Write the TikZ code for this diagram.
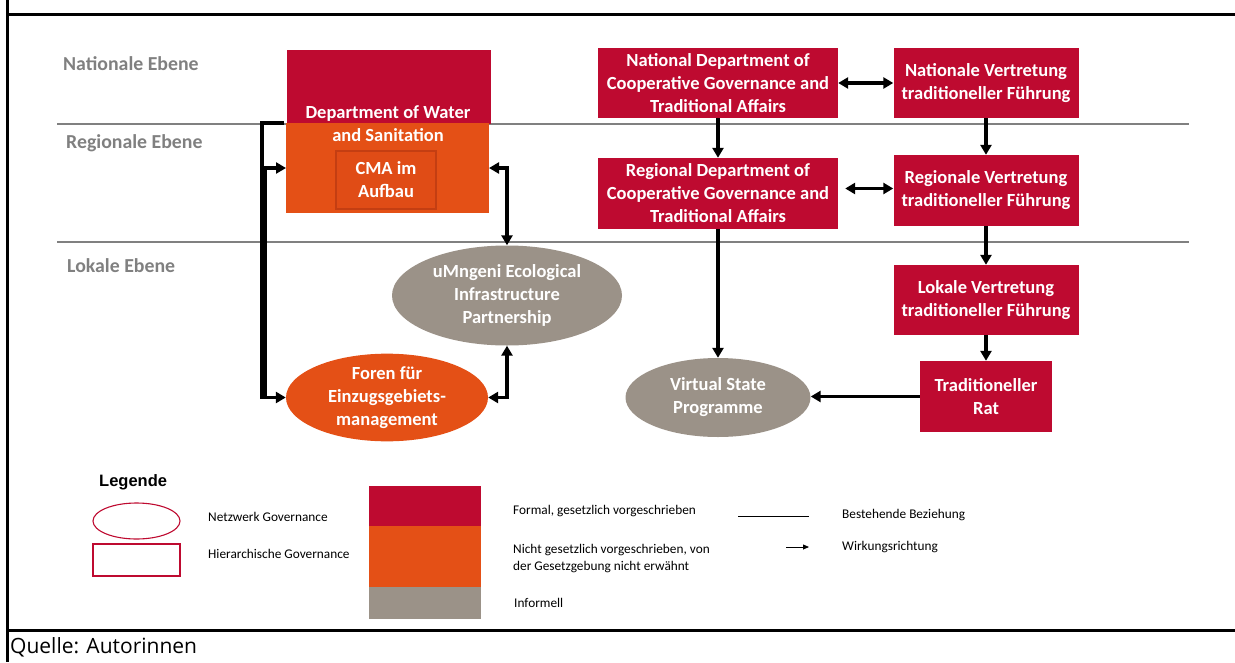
\documentclass[tikz,border=0pt]{standalone}
\usepackage{fontspec}
\setmainfont{Carlito}
\newfontfamily\legfont{Liberation Sans}
\newfontfamily\srcfont{Open Sans}
\usetikzlibrary{arrows.meta,shapes.geometric,calc}
\definecolor{crim}{RGB}{190,10,48}
\definecolor{orng}{RGB}{228,80,22}
\definecolor{cmaor}{RGB}{224,76,22}
\definecolor{cmaedge}{RGB}{196,62,18}
\definecolor{taupe}{RGB}{155,146,136}
\definecolor{lvlgray}{RGB}{128,128,128}
\begin{document}
\begin{tikzpicture}[x=1pt,y=-1pt,
  boxtext/.style={text=white, align=center, inner sep=0pt,
    font=\fontsize{18.5}{23}\selectfont\bfseries},
  redbox/.style={boxtext, rectangle, fill=crim},
  oval/.style={boxtext, ellipse},
  lvl/.style={anchor=west, text=lvlgray, inner sep=0pt,
    font=\fontsize{19.8}{22}\selectfont\bfseries},
  legtext/.style={anchor=west, inner sep=0pt, align=left,
    font=\fontsize{13.3}{17}\selectfont},
  sepline/.style={draw=lvlgray, line width=1.1pt},
  frame/.style={line width=3pt, black},
  conn/.style={line width=3.3pt, -{Triangle[length=10pt,width=11pt]}},
  dconn/.style={line width=3.3pt, {Triangle[length=10pt,width=11pt]}-{Triangle[length=10pt,width=11pt]}},
  plain/.style={line width=3.3pt}
]
\useasboundingbox (0,0) rectangle (1235,662);

% frame
\draw[frame] (7,0) -- (7,662);
\draw[frame] (7,14) -- (1235,14);
\draw[frame] (7,630) -- (1235,630);

% level separators
\draw[sepline] (57,124) -- (1189,124);
\draw[sepline] (57,242) -- (1189,242);

% level labels
\node[lvl] (lnat) at (63,64) {Nationale Ebene};
\node[lvl] (lreg) at (66,143) {Regionale Ebene};
\node[lvl] (llok) at (67,266) {Lokale Ebene};

% Department of Water and Sanitation
\fill[crim] (287,50) rectangle (491,124);
\fill[orng] (286,123) rectangle (489,213);
\node[rectangle, minimum width=204pt, minimum height=163pt, inner sep=0pt] (dws) at (388.5,131.5) {};
\node[boxtext] (dwstxt) at (388,123.5) {Department of Water\\and Sanitation};
\node[boxtext, rectangle, fill=cmaor, draw=cmaedge, line width=1.2pt,
  minimum width=100pt, minimum height=58pt] (cma) at (386,180) {CMA im\\Aufbau};

% CoGTA column
\node[redbox, minimum width=240pt, minimum height=70pt] (natdep) at (718,83) {National Department of\\Cooperative Governance and\\Traditional Affairs};
\node[redbox, minimum width=240pt, minimum height=71pt] (regdep) at (718,193.5) {Regional Department of\\Cooperative Governance and\\Traditional Affairs};

% traditional leadership column
\node[redbox, minimum width=185pt, minimum height=70pt] (natvert) at (986,83) {Nationale Vertretung\\traditioneller F\"uhrung};
\node[redbox, minimum width=185pt, minimum height=71pt] (regvert) at (986,190.5) {Regionale Vertretung\\traditioneller F\"uhrung};
\node[redbox, minimum width=185pt, minimum height=70pt] (lokvert) at (986,300) {Lokale Vertretung\\traditioneller F\"uhrung};
\node[redbox, minimum width=132pt, minimum height=71pt] (tradrat) at (986,396.5) {Traditioneller\\Rat};

% ellipses
\node[oval, fill=taupe, minimum width=230pt, minimum height=100pt] (umn) at (507,295.5) {uMngeni Ecological\\Infrastructure\\Partnership};
\node[oval, fill=orng, minimum width=202pt, minimum height=79pt] (foren) at (387,397.5) {Foren f\"ur\\Einzugsgebiets-\\management};
\node[oval, fill=taupe, minimum width=185pt, minimum height=79pt] (vsp) at (718,397.5) {Virtual State\\Programme};

% connector helper coordinates
\coordinate (dwsL) at (286,168);
\coordinate (dwsR) at (489,168);
\coordinate (hookA) at (284,123);
\coordinate (brkA) at (262,123);
\coordinate (brkB) at (265,397.5);

% connectors
\draw[dconn] (natdep.east) -- (natvert.west);
\draw[dconn] ($(regdep.east |- regvert.west)+(7,-2)$) -- ($(regvert.west)+(0,-2)$);
\draw[conn] (natdep.south) -- (regdep.north);
\draw[conn] (natvert.south) -- (regvert.north);
\draw[conn] (regvert.south) -- (lokvert.north);
\draw[conn] (lokvert.south) -- (tradrat.north);
\draw[conn] (tradrat.west) -- (tradrat.west -| vsp.east);
\draw[conn] (regdep.south) -- (vsp.north);
\draw[dconn] (dwsR) -| (umn.north);
\draw[dconn] (umn.south) |- (foren.east);
\draw[conn] (hookA) -- (brkA) |- (foren.west);
\draw[conn] (brkB) |- (dwsL);

% legend
\node[anchor=west, inner sep=0pt, font=\legfont\fontsize{16.5}{19}\selectfont\bfseries] (legtitle) at (99,482) {Legende};
\node[ellipse, draw=crim, line width=1.1pt, minimum width=87pt, minimum height=36pt] (legell) at (136.5,521) {};
\node[rectangle, draw=crim, line width=1.1pt, minimum width=87pt, minimum height=32pt] (legrect) at (136.5,560) {};
\node[legtext] (legnet) at (208,517) {Netzwerk Governance};
\node[legtext] (leghier) at (208,554) {Hierarchische Governance};

\fill[crim] (369,486) rectangle (481,526);
\fill[orng] (369,526) rectangle (481,587);
\fill[taupe] (369,587) rectangle (481,619);
\node[legtext] (legformal) at (513,511) {Formal, gesetzlich vorgeschrieben};
\node[legtext] (legnicht) at (513,558.5) {Nicht gesetzlich vorgeschrieben, von\\der Gesetzgebung nicht erw\"ahnt};
\node[legtext] (leginf) at (514,603) {Informell};

\coordinate (lineA) at (738,516);
\coordinate (lineB) at (809,516);
\draw[line width=0.8pt] (lineA) -- (lineB);
\coordinate (arrA) at (786,547);
\coordinate (arrB) at (809,547);
\draw[line width=0.8pt, -{Triangle[length=6pt,width=5pt]}] (arrA) -- (arrB);
\node[legtext] (legbest) at (842,515) {Bestehende Beziehung};
\node[legtext] (legwirk) at (842,547) {Wirkungsrichtung};

% source
\node[anchor=west, inner sep=0pt, font=\srcfont\fontsize{21}{24}\selectfont] (src) at (10,647) {Quelle: Autorinnen};
\end{tikzpicture}
\end{document}
